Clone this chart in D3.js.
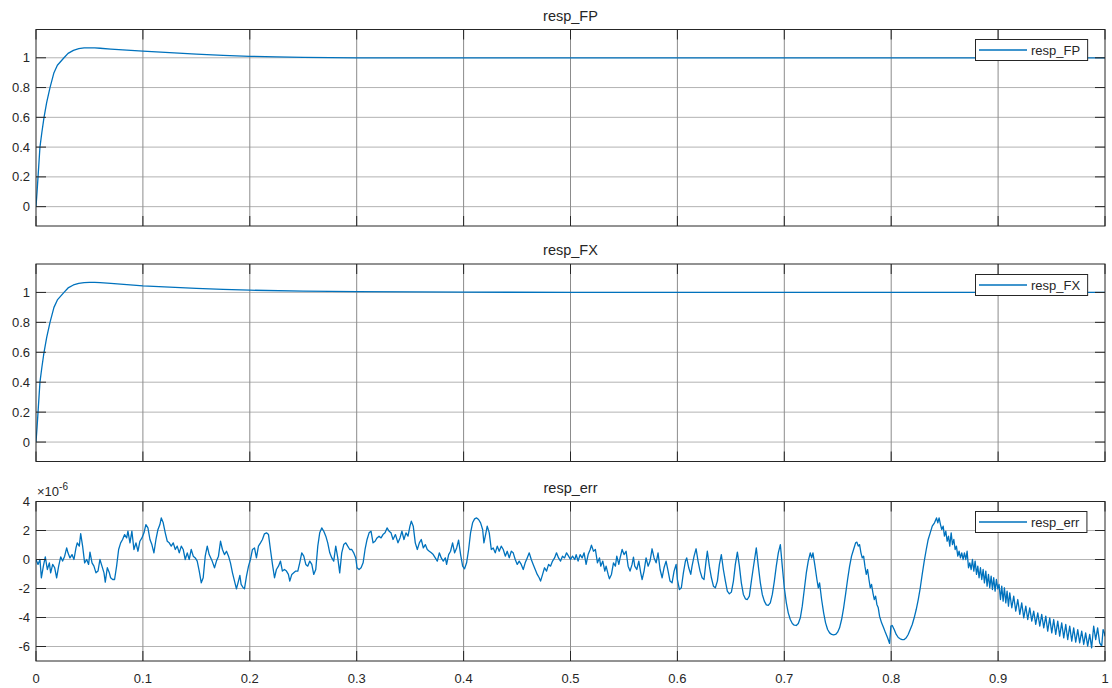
<!DOCTYPE html>
<html>
<head>
<meta charset="utf-8">
<script src="https://cdn.jsdelivr.net/npm/d3@7"></script>
<style>
  body { margin: 0; background: #fff; }
  text { font-family: "Liberation Sans", Arial, Helvetica, sans-serif; fill: #262626; }
</style>
</head>
<body>
<div id="vis-holder"></div>
<script>
// tick values
const xTicks = [0, 0.1, 0.2, 0.3, 0.4, 0.5, 0.6, 0.7, 0.8, 0.9, 1];
const respTicks = [0, 0.2, 0.4, 0.6, 0.8, 1];
const errTicks = [-6, -4, -2, 0, 2, 4];

// step responses [t, value]
const fpData = [[0,0],[0.001,0.1],[0.0019,0.2],[0.0028,0.3],[0.0037,0.4],[0.0055,0.5],[0.0075,0.6],[0.010,0.7],
  [0.0131,0.8],[0.0168,0.9],[0.020,0.95],[0.0262,1.0],[0.030,1.03],[0.035,1.05],[0.040,1.061],[0.045,1.066],
  [0.050,1.067],[0.055,1.067],[0.060,1.064],[0.070,1.058],[0.085,1.051],[0.100,1.045],[0.125,1.034],[0.150,1.024],
  [0.175,1.016],[0.200,1.010],[0.225,1.006],[0.250,1.003],[0.300,1.0],[0.400,0.999],[0.500,0.999],[0.600,1.0],
  [0.800,1.0],[1.0,1.0]];

const fxData = [[0,0],[0.001,0.1],[0.0019,0.2],[0.0028,0.3],[0.0037,0.4],[0.0055,0.5],[0.0075,0.6],[0.010,0.7],
  [0.0131,0.8],[0.0168,0.9],[0.020,0.95],[0.0262,1.0],[0.030,1.03],[0.035,1.05],[0.040,1.061],[0.045,1.066],
  [0.050,1.067],[0.055,1.067],[0.060,1.065],[0.070,1.06],[0.085,1.052],[0.100,1.044],[0.125,1.035],[0.150,1.027],
  [0.175,1.021],[0.200,1.015],[0.250,1.009],[0.300,1.005],[0.400,1.002],[0.500,1.0],[0.600,1.0],
  [0.800,1.0],[1.0,1.0]];

// error signal [t, value x1e-6]
const errData = [[0,0],[0.0019,-0.34],[0.0037,0],[0.005,-1.26],[0.0069,-0.46],[0.0087,0.18],[0.0106,-0.69],
  [0.0125,-0.23],[0.0137,-0.92],[0.0156,-0.34],[0.0175,-0.57],[0.0193,-1.26],[0.0212,-0.46],[0.0231,0.18],
  [0.0249,-0.11],[0.0268,0.23],[0.0287,0.8],[0.0299,0.46],[0.0318,0.11],[0.0337,0.34],[0.0355,0],[0.0374,0.8],
  [0.0386,1.15],[0.0405,0.92],[0.0418,1.79],[0.0436,0.92],[0.0455,-0.23],[0.0474,0],[0.0492,-0.34],[0.0505,0.51],
  [0.0524,-0.23],[0.0542,-0.46],[0.0561,-0.92],[0.058,-0.8],[0.0598,0],[0.0617,-0.46],[0.0636,-0.92],[0.0648,-1.56],
  [0.0667,-0.57],[0.0686,-0.92],[0.0698,-1.26],[0.0717,-1.38],[0.0735,-1.38],[0.0754,-0.46],[0.0773,0.69],
  [0.0792,1.15],[0.081,1.38],[0.0829,1.72],[0.0848,1.49],[0.086,1.95],[0.0879,1.15],[0.0897,1.95],[0.0916,0.69],
  [0.0935,1.15],[0.0954,0.57],[0.0972,1.26],[0.0991,1.49],[0.101,1.84],[0.1028,2.41],[0.1047,2.18],[0.1066,1.38],
  [0.1084,1.03],[0.1103,0.46],[0.1122,1.38],[0.1141,2.07],[0.1159,2.41],[0.1172,2.87],[0.119,2.53],[0.1209,1.84],
  [0.1228,1.26],[0.1246,1.15],[0.1265,0.92],[0.1284,1.15],[0.1303,0.69],[0.1321,0.92],[0.134,0.46],[0.1359,0.92],
  [0.1377,0.69],[0.1396,0],[0.1415,0.46],[0.1433,0],[0.1452,0.69],[0.1471,0.23],[0.149,0.11],[0.1508,-0.11],
  [0.1527,-0.8],[0.1546,-1.61],[0.1564,-1.26],[0.1583,0.23],[0.1602,0.92],[0.162,0.34],
  [0.1648,-0.11],[0.167,-0.57],[0.1688,-0.11],[0.1707,0.23],[0.1726,1.26],[0.1744,0.69],[0.1763,0.34],[0.1782,0.57],
  [0.1801,0.23],[0.1819,-0.23],[0.1838,-0.92],[0.1857,-1.49],[0.1875,-2.02],[0.1894,-1.49],[0.1907,-1.1],
  [0.1919,-1.72],[0.1938,-1.95],[0.195,-2.02],[0.1969,-1.15],[0.1988,-0.46],[0.2006,0],[0.2025,0.69],[0.2044,0.8],
  [0.2062,0.11],[0.2081,0.92],[0.21,1.15],[0.2118,1.38],[0.2137,1.77],[0.2156,1.84],[0.2175,1.72],[0.2193,0.69],
  [0.2212,-0.34],[0.2231,-1.26],[0.2249,-0.69],[0.2268,-0.46],[0.2287,-0.11],[0.2305,-0.8],[0.2324,-0.69],
  [0.2343,-0.8],[0.2361,-1.03],[0.2374,-1.49],[0.2393,-1.03],[0.2411,-0.92],[0.243,-0.8],[0.2449,-0.8],
  [0.2467,-0.23],[0.2486,0.46],[0.2505,0.23],[0.2524,-0.34],[0.2542,-0.46],[0.2561,-0.11],[0.258,-0.34],
  [0.2598,-1.03],[0.2617,-0.69],[0.2636,0.92],[0.2654,1.84],[0.2673,2.18],[0.2692,1.95],[0.2711,1.61],
  [0.2729,1.15],[0.2748,0.46],[0.2767,0.11],[0.2785,-0.11],[0.2804,0.92],[0.2823,0.11],[0.2841,-0.92],
  [0.286,0.46],[0.2879,1.03],[0.2898,1.15],[0.2916,0.92],[0.2935,0.69],[0.2954,0.69],[0.2972,0.46],[0.2991,0.11],
  [0.3003,-0.57],[0.3022,-0.69],[0.3041,-0.57],[0.306,-0.23],[0.3078,0.69],[0.3097,1.38],[0.3116,1.84],
  [0.3134,1.95],[0.3153,1.15],[0.3172,1.26],[0.319,1.49],[0.3209,1.61],[0.3228,1.49],[0.3246,1.72],[0.3265,1.84],
  [0.3284,2.18],[0.3303,1.95],[0.3321,1.84],[0.334,1.38],[0.3362,1.72],
  [0.3367,1.61],[0.3386,1.15],[0.3405,1.49],[0.3423,1.95],[0.3442,1.38],[0.3461,1.84],[0.348,1.61],[0.3498,2.3],
  [0.3511,2.64],[0.3529,2.3],[0.3548,1.15],[0.3567,0.69],[0.3586,1.15],[0.3604,1.38],[0.3623,0.8],[0.3642,1.03],
  [0.366,0.69],[0.3679,0.57],[0.3698,0.46],[0.3716,0.34],[0.3735,0.11],[0.3754,-0.11],[0.3773,0.46],[0.3791,0.11],
  [0.381,-0.11],[0.3829,0.11],[0.3841,-0.34],[0.386,0.34],[0.3878,0.57],[0.3897,1.15],[0.3916,0.46],[0.3935,0.8],
  [0.3953,1.33],[0.3972,0.34],[0.3991,-0.46],[0.4009,-0.64],[0.4028,-0.23],[0.4047,0.69],[0.4065,1.84],
  [0.4084,2.53],[0.4103,2.8],[0.4122,2.87],[0.414,2.76],[0.4159,2.53],[0.4178,2.07],[0.419,1.15],[0.4209,1.84],
  [0.4221,2.3],[0.424,1.84],[0.4259,0.69],[0.4277,0.8],[0.4296,0.46],[0.4315,0.92],[0.4333,0.57],[0.4352,0.92],
  [0.4371,0.69],[0.439,0.23],[0.4408,0.57],[0.4427,0.11],[0.4446,0.57],[0.4464,0.46],[0.4483,0],[0.4502,-0.34],
  [0.452,-0.11],[0.4539,-0.34],[0.4558,-0.69],[0.4576,-0.23],[0.4595,0.11],[0.4614,0.46],[0.4633,0],[0.4651,-0.34],
  [0.467,-0.69],[0.4689,-1.03],[0.4707,-1.26],[0.472,-1.49],[0.4739,-1.03],[0.4757,-0.57],[0.4776,-0.8],
  [0.4795,-0.34],[0.4813,-0.46],[0.4832,-0.11],[0.4851,0.11],[0.4869,0.46],[0.4888,0.11],[0.4907,-0.11],
  [0.4925,0.23],[0.4944,0.11],[0.4963,0.46],[0.4982,0.23],[0.5,0],[0.5019,0.23],
  [0.504,0],[0.5053,0.34],[0.5071,-0.11],[0.509,0.34],[0.5109,0.11],[0.5127,0.46],[0.5146,-0.34],[0.5165,0.34],
  [0.5184,0.69],[0.5196,0.99],[0.5215,0.57],[0.5233,0.69],[0.5252,-0.23],[0.5271,0.11],[0.5283,-0.46],
  [0.5302,-0.11],[0.5321,-0.8],[0.5333,-0.46],[0.5352,-1.03],[0.5364,-1.33],[0.5383,-1.03],[0.5402,-0.23],
  [0.542,-0.46],[0.5433,0.23],[0.5452,-0.34],[0.5464,0.11],[0.5483,0.69],[0.5501,0.34],[0.552,0.57],
  [0.5539,-0.46],[0.5557,-0.8],[0.5576,-0.34],[0.5589,0.16],[0.5601,-0.46],[0.562,-0.69],[0.5639,-0.11],
  [0.5657,-0.92],[0.567,-1.38],[0.5688,-0.8],[0.5707,0.11],[0.5726,-0.46],[0.5744,-0.11],[0.5763,0.74],
  [0.5782,0.11],[0.5801,-0.23],[0.5819,0.46],[0.5838,-0.69],[0.5857,-1.26],[0.5875,-0.57],[0.5894,-0.11],
  [0.5913,-0.8],[0.5931,-1.49],[0.595,-1.61],[0.5969,-0.8],[0.5988,-0.34],[0.6,-1.38],[0.6019,-2.07],
  [0.6037,-1.95],[0.6056,-0.92],[0.6075,-0.11],[0.6087,0.11],[0.6106,-0.57],[0.6125,-1.03],[0.6137,-0.46],
  [0.6156,0.23],[0.6175,0.74],[0.6193,-0.11],[0.6212,-0.8],[0.6231,-1.26],[0.6249,-1.38],[0.6268,-0.11],
  [0.628,0.57],[0.6299,-0.46],[0.6318,-1.26],[0.6337,-1.84],[0.6355,-1.95],[0.6374,-1.49],[0.6393,-0.34],
  [0.6411,0.34],[0.643,-0.69],[0.6449,-1.49],[0.6467,-2.18],[0.6486,-2.37],[0.6505,-2.25],[0.6524,-1.49],
  [0.6542,-0.34],[0.6561,0.51],[0.658,-0.46],[0.6598,-1.61],[0.6617,-2.41],[0.6636,-2.71],[0.6654,-2.76],
  [0.6673,-2.53],[0.6692,-1.49],[0.671,-0.57],
  [0.6738,0.8],[0.6757,-0.46],[0.6776,-1.61],[0.6794,-2.41],[0.6813,-2.87],[0.6832,-3.13],[0.685,-3.17],
  [0.6869,-2.99],[0.6888,-2.41],[0.6907,-1.49],[0.6925,-0.46],[0.6944,0.46],[0.6963,1.03],[0.6981,-0.46],
  [0.7,-1.95],[0.7019,-2.99],[0.7037,-3.68],[0.7056,-4.14],[0.7075,-4.41],[0.7093,-4.53],[0.7112,-4.55],
  [0.7131,-4.41],[0.715,-4.02],[0.7168,-3.22],[0.7187,-2.07],[0.7206,-0.92],[0.7224,-0.11],[0.7243,0.46],
  [0.7256,0.11],[0.7268,0.46],[0.7287,-0.46],[0.7305,-1.38],[0.7318,-1.95],[0.733,-1.61],[0.7349,-2.76],
  [0.7368,-3.68],[0.7386,-4.37],[0.7405,-4.83],[0.7424,-5.06],[0.7443,-5.17],[0.7461,-5.2],[0.748,-5.17],
  [0.7499,-5.01],[0.7517,-4.71],[0.7536,-4.14],[0.7555,-3.33],[0.7573,-2.41],[0.7592,-1.38],[0.7611,-0.46],
  [0.7629,0.23],[0.7648,0.69],[0.7667,1.15],[0.7679,1.2],[0.7692,0.92],[0.7704,1.03],[0.7717,0.46],[0.7729,0.11],
  [0.7742,0.23],[0.7754,-0.46],[0.7767,-1.03],[0.7779,-0.69],[0.7792,-1.38],[0.7804,-1.95],[0.7816,-1.72],
  [0.7829,-2.3],[0.7842,-2.76],[0.7854,-2.53],[0.7866,-3.1],[0.7879,-3.33],[0.7891,-3.91],[0.791,-4.37],
  [0.7929,-4.71],[0.7947,-5.06],[0.7966,-5.4],[0.7985,-5.79],[0.7997,-4.6],[0.801,-4.55],[0.8028,-4.83],
  [0.8047,-5.17],[0.8066,-5.38],[0.8084,-5.47],[0.8103,-5.52],[0.8122,-5.52],[0.8141,-5.4],[0.8159,-5.17],
  [0.8178,-4.83],[0.8197,-4.48],[0.8215,-4.02],[0.8234,-3.45],[0.8253,-2.76],[0.8272,-1.95],[0.829,-1.03],
  [0.8309,-0.11],[0.8328,0.69],[0.8346,1.38],[0.8365,1.84],[0.8384,2.3],[0.8405,2.53],
  [0.8411,2.64],[0.8424,2.87],[0.8436,2.53],[0.8448,2.87],[0.8461,2.41],[0.8473,2.07],[0.8486,2.3],[0.8498,1.61],
  [0.8511,1.95],[0.8523,1.26],[0.8536,1.61],[0.8548,0.92],[0.8561,1.84],[0.8573,1.03],[0.8586,1.38],[0.8598,0.69],
  [0.861,0.92],[0.8623,0.23],[0.8635,0.57],[0.8648,0.11],[0.866,0.46],[0.8673,0],[0.8685,0.46],[0.8698,0],
  [0.871,0.57],[0.8723,-0.57],[0.8735,-0.23],[0.8748,-0.69],[0.876,0],[0.8773,-0.8],[0.8785,-0.11],[0.8798,-1.03],
  [0.881,-0.46],[0.8822,-1.26],[0.8835,-0.57],[0.8847,-1.38],[0.886,-0.69],[0.8872,-1.61],[0.8885,-0.8],
  [0.8897,-1.84],[0.891,-1.03],[0.8922,-1.95],[0.8935,-1.15],[0.8947,-2.07],[0.8959,-1.26],[0.8972,-2.18],
  [0.8984,-1.38],[0.8997,-2.02],[0.9009,-1.72],[0.9022,-2.76],[0.9034,-1.84],[0.9047,-2.87],[0.9059,-1.95],
  [0.9072,-2.99],[0.9084,-2.18],[0.9097,-3.22],[0.9109,-2.3],[0.9128,-3.33],[0.9146,-2.53],[0.9165,-3.56],
  [0.9184,-2.76],[0.9203,-3.79],[0.9221,-2.99],[0.924,-4.02],[0.9259,-3.22],[0.9277,-4.14],[0.9296,-3.33],
  [0.9315,-4.25],[0.9333,-3.56],[0.9352,-4.48],[0.9371,-3.68],[0.939,-4.6],[0.9408,-3.79],[0.9427,-4.71],
  [0.9446,-3.91],[0.9464,-4.94],[0.9483,-4.02],[0.9502,-5.06],[0.952,-4.14],[0.9539,-5.17],[0.9558,-4.25],
  [0.9576,-5.29],[0.9595,-4.37],[0.9614,-5.4],[0.9633,-4.48],[0.9651,-5.52],[0.967,-4.6],[0.9689,-5.63],
  [0.9707,-4.71],[0.9726,-5.7],[0.9745,-4.83],[0.9763,-5.75],[0.9782,-4.94],[0.9801,-5.86],[0.9819,-5.06],
  [0.9838,-5.98],[0.9857,-5.17],[0.9875,-6.09],[0.9894,-4.6],[0.9913,-5.52],[0.9931,-4.71],[0.995,-5.75],
  [0.9969,-5.98],[0.9982,-4.83],[0.9994,-5.06],[1.0,-5.3]];

const width = 1112;
const height = 688;
const margin = { left: 36, right: 7 };
const lineColor = "#0072bd";
const axisColor = "#262626";
const tickLen = 10;

// panels stacked vertically
const panels = [
  { title: "resp_FP", data: fpData, domain: [-0.13, 1.19], ticks: respTicks, top: 29.5, bottom: 226, xLabels: false },
  { title: "resp_FX", data: fxData, domain: [-0.13, 1.19], ticks: respTicks, top: 264, bottom: 461.5, xLabels: false },
  { title: "resp_err", data: errData, domain: [-7, 4], ticks: errTicks, top: 501.5, bottom: 661, xLabels: true, exponent: "-6" }
];

const svg = d3.select("#vis-holder")
  .append("svg")
  .attr("width", width)
  .attr("height", height);

const x = d3.scaleLinear()
  .domain([0, 1])
  .range([margin.left, width - margin.right]);

panels.forEach((p, i) => {
  const y = d3.scaleLinear()
    .domain(p.domain)
    .range([p.bottom, p.top]);

  const g = svg.append("g");

  // clip for the data line
  g.append("clipPath")
    .attr("id", "clip" + i)
    .append("rect")
    .attr("x", x(0)).attr("y", p.top)
    .attr("width", x(1) - x(0)).attr("height", p.bottom - p.top);

  // grid
  g.selectAll(".hgrid")
    .data(p.ticks)
    .enter().append("line")
    .attr("x1", x(0)).attr("x2", x(1))
    .attr("y1", (d) => y(d)).attr("y2", (d) => y(d))
    .attr("stroke", "#b3b3b3").attr("stroke-width", 1);

  g.selectAll(".vgrid")
    .data(xTicks.slice(1, -1))
    .enter().append("line")
    .attr("x1", (d) => x(d)).attr("x2", (d) => x(d))
    .attr("y1", p.top).attr("y2", p.bottom)
    .attr("stroke", "#8c8c8c").attr("stroke-width", 1);

  // data line
  const line = d3.line()
    .x((d) => x(d[0]))
    .y((d) => y(d[1]));

  g.append("path")
    .datum(p.data)
    .attr("clip-path", `url(#clip${i})`)
    .attr("fill", "none")
    .attr("stroke", lineColor)
    .attr("stroke-width", 1.3)
    .attr("stroke-linejoin", "round")
    .attr("d", line);

  // tick marks on all four sides
  g.selectAll(".ytickL")
    .data(p.ticks)
    .enter().append("line")
    .attr("x1", x(0)).attr("x2", x(0) + tickLen)
    .attr("y1", (d) => y(d)).attr("y2", (d) => y(d))
    .attr("stroke", axisColor);
  g.selectAll(".ytickR")
    .data(p.ticks)
    .enter().append("line")
    .attr("x1", x(1) - tickLen).attr("x2", x(1))
    .attr("y1", (d) => y(d)).attr("y2", (d) => y(d))
    .attr("stroke", axisColor);
  g.selectAll(".xtickB")
    .data(xTicks)
    .enter().append("line")
    .attr("x1", (d) => x(d)).attr("x2", (d) => x(d))
    .attr("y1", p.bottom).attr("y2", p.bottom - tickLen)
    .attr("stroke", axisColor);
  g.selectAll(".xtickT")
    .data(xTicks)
    .enter().append("line")
    .attr("x1", (d) => x(d)).attr("x2", (d) => x(d))
    .attr("y1", p.top).attr("y2", p.top + tickLen)
    .attr("stroke", axisColor);

  // box
  g.append("rect")
    .attr("x", x(0)).attr("y", p.top)
    .attr("width", x(1) - x(0)).attr("height", p.bottom - p.top)
    .attr("fill", "none")
    .attr("stroke", axisColor)
    .attr("stroke-width", 1);

  // y tick labels
  g.selectAll(".ylab")
    .data(p.ticks)
    .enter().append("text")
    .attr("x", x(0) - 6)
    .attr("y", (d) => y(d))
    .attr("dy", "0.35em")
    .attr("text-anchor", "end")
    .attr("font-size", "13px")
    .text((d) => String(d));

  // x tick labels, bottom panel only
  if (p.xLabels) {
    g.selectAll(".xlab")
      .data(xTicks)
      .enter().append("text")
      .attr("x", (d) => x(d))
      .attr("y", p.bottom + 22)
      .attr("text-anchor", "middle")
      .attr("font-size", "13px")
      .text((d) => String(d));
  }

  // title
  g.append("text")
    .attr("x", (x(0) + x(1)) / 2)
    .attr("y", p.top - 9)
    .attr("text-anchor", "middle")
    .attr("font-size", "14.5px")
    .text(p.title);

  // exponent label
  if (p.exponent) {
    const ex = g.append("text")
      .attr("x", x(0) + 1)
      .attr("y", p.top - 6)
      .attr("font-size", "13px")
      .attr("fill", "#555");
    ex.append("tspan").text("\u00d710");
    ex.append("tspan")
      .attr("dy", -6)
      .attr("font-size", "10px")
      .text(p.exponent);
  }

  // legend
  const lg = g.append("g");
  const lx = 975, ly = Math.round(p.top + 9.5) + 0.5;
  const box = lg.append("rect")
    .attr("x", lx + 0.5).attr("y", ly)
    .attr("height", 21)
    .attr("fill", "#fff")
    .attr("stroke", axisColor)
    .attr("stroke-width", 1);
  lg.append("line")
    .attr("x1", lx + 4).attr("x2", lx + 52)
    .attr("y1", ly + 10.5).attr("y2", ly + 10.5)
    .attr("stroke", lineColor)
    .attr("stroke-width", 1.5);
  const lt = lg.append("text")
    .attr("x", lx + 56)
    .attr("y", ly + 10.5)
    .attr("dy", "0.35em")
    .attr("font-size", "13px")
    .text(p.title);
  const tw = lt.node().getComputedTextLength();
  box.attr("width", 56 + tw + 7);
});
</script>
</body>
</html>
